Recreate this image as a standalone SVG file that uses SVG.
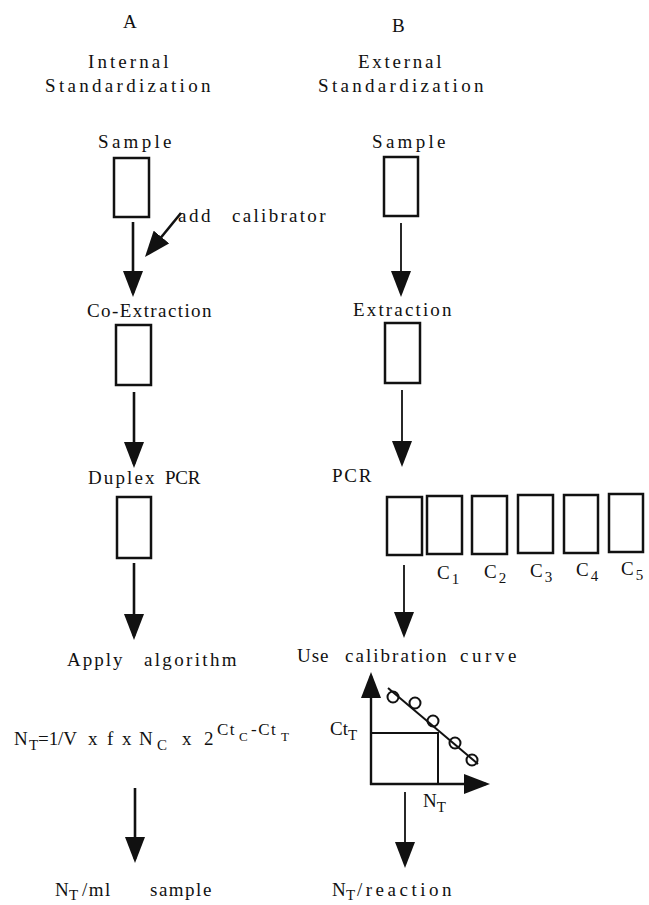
<svg xmlns="http://www.w3.org/2000/svg" width="649" height="905" viewBox="0 0 649 905">
  <style>
    .t { font-family: "Liberation Serif", "Times New Roman", serif; font-size: 19px; fill: #111; letter-spacing: 1.5px; }
    .f { font-family: "Liberation Serif", "Times New Roman", serif; font-size: 19px; fill: #111; }
    .s { font-size: 15px; }
    .sp { font-size: 17px; letter-spacing: 1.5px; }
    .ss { font-size: 13px; }
    .box { fill: #fff; stroke: #111; stroke-width: 2.5; }
    .thick { stroke: #111; stroke-width: 2.6; fill: none; }
    .thin { stroke: #111; stroke-width: 1.8; fill: none; }
    .ax { stroke: #111; stroke-width: 2.4; fill: none; }
    .pt { stroke: #111; stroke-width: 2; fill: none; }
  </style>
  <defs>
    <marker id="head" markerUnits="userSpaceOnUse" markerWidth="26" markerHeight="20" refX="22" refY="10" orient="auto">
      <path d="M0,0 L26,10 L0,20 Z" fill="#111"/>
    </marker>
    <marker id="axhead" markerUnits="userSpaceOnUse" markerWidth="26" markerHeight="20" refX="22" refY="10" orient="auto">
      <path d="M0,0 L26,10 L0,20 Z" fill="#111"/>
    </marker>
  </defs>
  <rect width="649" height="905" fill="#fff"/>

  <!-- column headings -->
  <g id="heading-a">
    <text class="t" x="123" y="28">A</text>
    <text class="t" x="88" y="68" textLength="82">Internal</text>
    <text class="t" x="45" y="92" textLength="167">Standardization</text>
  </g>
  <g id="heading-b">
    <text class="t" x="392" y="32">B</text>
    <text class="t" x="358" y="68" textLength="85">External</text>
    <text class="t" x="318" y="92" textLength="167">Standardization</text>
  </g>

  <!-- A: internal standardization -->
  <g id="a-sample">
    <text class="t" x="98" y="148" textLength="75">Sample</text>
    <rect class="box" x="114" y="158" width="35" height="59"/>
  </g>
  <g id="a-calibrator">
    <text class="t" x="178" y="222" textLength="34">add</text>
    <text class="t" x="232" y="222" textLength="95">calibrator</text>
  </g>
  <g id="a-extraction">
    <text class="t" x="87" y="317" textLength="126">Co-Extraction</text>
    <rect class="box" x="116" y="325" width="35" height="60"/>
  </g>
  <g id="a-pcr">
    <text class="t" x="88" y="484" textLength="68">Duplex</text>
    <text class="t" x="165" y="484" textLength="37">PCR</text>
    <rect class="box" x="117" y="497" width="34" height="61"/>
  </g>
  <g id="a-algorithm">
    <text class="t" x="67" y="666" textLength="57">Apply</text>
    <text class="t" x="144" y="666" textLength="94">algorithm</text>
  </g>
  <g id="a-formula">
    <text class="f" x="14" y="745">N</text>
    <text class="f s" x="29" y="750">T</text>
    <text class="f" x="38" y="745" textLength="39">=1/V</text>
    <text class="f" x="88" y="745">x</text>
    <text class="f" x="107" y="745">f</text>
    <text class="f" x="122" y="745">x</text>
    <text class="f" x="139" y="745">N</text>
    <text class="f s" x="157" y="750">C</text>
    <text class="f" x="182" y="745">x</text>
    <text class="f" x="204" y="745">2</text>
    <text class="f sp" x="217" y="735">Ct</text>
    <text class="f ss" x="239" y="741">C</text>
    <text class="f sp" x="251" y="735">-Ct</text>
    <text class="f ss" x="281" y="741">T</text>
  </g>
  <g id="a-result">
    <text class="t" x="55" y="896">N</text>
    <text class="t s" x="69" y="900" letter-spacing="0">T</text>
    <text class="t" x="82" y="896" letter-spacing="3">/ml</text>
    <text class="t" x="150" y="896" letter-spacing="0">sample</text>
  </g>

  <!-- B: external standardization -->
  <g id="b-sample">
    <text class="t" x="372" y="148" textLength="75">Sample</text>
    <rect class="box" x="384" y="157" width="34" height="59"/>
  </g>
  <g id="b-extraction">
    <text class="t" x="353" y="316" textLength="100">Extraction</text>
    <rect class="box" x="385" y="323" width="35" height="60"/>
  </g>
  <g id="b-pcr">
    <text class="t" x="332" y="482" textLength="41">PCR</text>
    <rect class="box" x="387" y="497" width="35" height="58"/>
  </g>
  <g id="b-standards">
    <rect class="box" x="427" y="496" width="35" height="58"/>
    <rect class="box" x="472" y="496" width="35" height="58"/>
    <rect class="box" x="518" y="495" width="35" height="58"/>
    <rect class="box" x="564" y="495" width="34" height="58"/>
    <rect class="box" x="609" y="494" width="34" height="58"/>
    <text class="f" y="579"><tspan x="437">C</tspan><tspan class="s" dx="2" dy="5">1</tspan></text>
    <text class="f" y="578"><tspan x="484">C</tspan><tspan class="s" dx="2" dy="5">2</tspan></text>
    <text class="f" y="577"><tspan x="530">C</tspan><tspan class="s" dx="2" dy="5">3</tspan></text>
    <text class="f" y="576"><tspan x="576">C</tspan><tspan class="s" dx="2" dy="5">4</tspan></text>
    <text class="f" y="575"><tspan x="621">C</tspan><tspan class="s" dx="2" dy="5">5</tspan></text>
  </g>
  <g id="b-calibration">
    <text class="t" x="297" y="662" textLength="33">Use</text>
    <text class="t" x="345" y="662" textLength="103">calibration</text>
    <text class="t" x="460" y="662" textLength="58">curve</text>
  </g>
  <g id="b-curve">
    <line class="ax" x1="371" y1="785" x2="371" y2="676" marker-end="url(#axhead)"/>
    <line class="ax" x1="370" y1="784" x2="486" y2="784" marker-end="url(#axhead)"/>
    <polyline class="pt" points="371,733 438,733 438,784"/>
    <line class="pt" x1="388" y1="688" x2="478" y2="764"/>
    <circle class="pt" cx="393" cy="697" r="5.5"/>
    <circle class="pt" cx="415" cy="703" r="5.5"/>
    <circle class="pt" cx="433" cy="721" r="5.5"/>
    <circle class="pt" cx="455" cy="743" r="5.5"/>
    <circle class="pt" cx="472" cy="760" r="5.5"/>
    <text class="f" y="735"><tspan x="330">Ct</tspan><tspan class="s" dy="5">T</tspan></text>
    <text class="f" y="807"><tspan x="423">N</tspan><tspan class="s" dy="5">T</tspan></text>
  </g>
  <g id="b-result">
    <text class="t" x="332" y="896">N</text>
    <text class="t s" x="346" y="900" letter-spacing="0">T</text>
    <text class="t" x="357" y="896" font-size="20" textLength="96">/reaction</text>
  </g>

  <!-- flow connectors -->
  <g id="connectors">
    <line class="thick" x1="133" y1="222" x2="133" y2="293" marker-end="url(#head)"/>
    <line class="thick" x1="181" y1="213" x2="147.5" y2="254" marker-end="url(#head)"/>
    <line class="thick" x1="134" y1="392" x2="134" y2="464" marker-end="url(#head)"/>
    <line class="thick" x1="134" y1="563" x2="134" y2="636" marker-end="url(#head)"/>
    <line class="thick" x1="135" y1="788" x2="135" y2="859" marker-end="url(#head)"/>
    <line class="thin" x1="401" y1="223" x2="401" y2="293" marker-end="url(#head)"/>
    <line class="thin" x1="402" y1="390" x2="402" y2="463" marker-end="url(#head)"/>
    <line class="thin" x1="404" y1="565" x2="404" y2="634" marker-end="url(#head)"/>
    <line class="thin" x1="405" y1="792" x2="405" y2="864" marker-end="url(#head)"/>
  </g>
</svg>
